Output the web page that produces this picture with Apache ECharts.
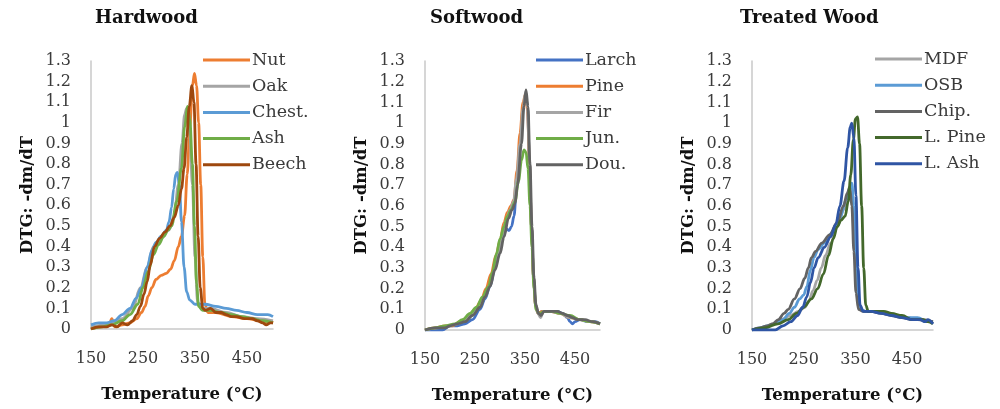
<!DOCTYPE html>
<html>
<head>
<meta charset="utf-8">
<script src="https://cdn.jsdelivr.net/npm/echarts@6/dist/echarts.min.js"></script>
<style>
html,body{margin:0;padding:0;background:#fff;}
#c{width:1000px;height:409px;}
</style>
</head>
<body>
<div id="c"></div>
<script>
// ---------- axis ticks ----------
const xMin = 150, xMax = 500, xStep = 100;
const yMin = 0, yMax = 1.3, yStep = 0.1;

const panelTitles = ['Hardwood', 'Softwood', 'Treated Wood'];
const xAxisTitle = 'Temperature (°C)';
const yAxisTitle = 'DTG: -dm/dT';

// ---------- Hardwood ----------
const hardNames = ['Nut', 'Oak', 'Chest.', 'Ash', 'Beech'];
const nut = [[150,0],[170,0.01],[185,0.02],[190,0.05],[196,0.01],[210,0.02],[225,0.03],[238,0.05],[247,0.08],[254,0.11],[260,0.16],[267,0.2],[275,0.24],[285,0.26],[295,0.27],[303,0.29],[310,0.33],[318,0.4],[324,0.45],[330,0.55],[335,0.75],[340,0.98],[345,1.18],[349,1.24],[353,1.18],[357,1.0],[361,0.7],[365,0.35],[369,0.12],[375,0.08],[390,0.08],[420,0.06],[450,0.05],[475,0.04],[490,0.03],[500,0.04]];
const oak = [[150,0.01],[180,0.02],[210,0.05],[230,0.1],[245,0.2],[258,0.3],[270,0.4],[285,0.44],[300,0.48],[310,0.55],[318,0.7],[325,0.9],[330,1.04],[334,1.07],[340,0.95],[345,0.7],[350,0.35],[355,0.13],[362,0.1],[380,0.1],[410,0.08],[440,0.06],[470,0.05],[500,0.04]];
const chest = [[150,0.02],[165,0.03],[180,0.03],[195,0.04],[210,0.07],[225,0.1],[237,0.15],[247,0.2],[258,0.3],[267,0.38],[275,0.42],[285,0.45],[295,0.48],[300,0.52],[305,0.59],[309,0.68],[313,0.75],[316,0.76],[320,0.7],[324,0.52],[329,0.3],[334,0.18],[340,0.14],[350,0.12],[370,0.12],[390,0.11],[410,0.1],[430,0.09],[450,0.08],[470,0.07],[490,0.07],[500,0.06]];
const ash = [[150,0],[170,0.01],[190,0.02],[210,0.04],[225,0.07],[240,0.12],[250,0.2],[260,0.28],[270,0.36],[280,0.41],[290,0.45],[298,0.48],[305,0.5],[315,0.62],[324,0.78],[330,0.98],[336,1.08],[340,1.02],[345,0.8],[349,0.5],[353,0.22],[357,0.11],[365,0.09],[380,0.09],[400,0.08],[420,0.07],[440,0.06],[460,0.05],[480,0.04],[500,0.03]];
const beech = [[150,0],[165,0.01],[180,0.01],[190,0.02],[200,0.01],[210,0.03],[220,0.02],[230,0.04],[238,0.07],[245,0.11],[252,0.17],[258,0.23],[264,0.31],[272,0.4],[282,0.44],[292,0.47],[302,0.5],[310,0.54],[318,0.6],[324,0.68],[329,0.78],[334,0.93],[339,1.08],[344,1.18],[348,1.1],[352,0.8],[356,0.45],[360,0.2],[365,0.1],[370,0.09],[380,0.1],[390,0.08],[400,0.08],[410,0.07],[420,0.06],[430,0.06],[445,0.05],[460,0.05],[470,0.04],[480,0.03],[487,0.02],[495,0.03],[500,0.03]];

// ---------- Softwood ----------
const softNames = ['Larch', 'Pine', 'Fir', 'Jun.', 'Dou.'];
const larch = [[150,0],[170,0],[185,0],[200,0.02],[215,0.02],[230,0.03],[245,0.05],[260,0.1],[270,0.15],[280,0.21],[290,0.3],[298,0.38],[305,0.45],[312,0.49],[318,0.48],[323,0.5],[328,0.55],[333,0.68],[340,0.88],[346,1.06],[351,1.14],[355,1.08],[359,0.8],[363,0.5],[367,0.25],[371,0.12],[376,0.08],[385,0.09],[400,0.09],[415,0.09],[425,0.08],[435,0.06],[440,0.04],[445,0.03],[450,0.04],[460,0.05],[475,0.04],[490,0.04],[500,0.03]];
const pine = [[150,0],[170,0.01],[190,0.02],[205,0.02],[220,0.04],[235,0.06],[250,0.1],[262,0.14],[272,0.2],[282,0.27],[292,0.36],[300,0.43],[308,0.52],[315,0.57],[322,0.6],[328,0.63],[334,0.77],[340,0.95],[346,1.1],[351,1.14],[355,1.06],[359,0.8],[363,0.5],[367,0.25],[371,0.12],[376,0.08],[385,0.09],[400,0.09],[420,0.08],[440,0.06],[460,0.05],[480,0.04],[500,0.03]];
const fir = [[150,0],[175,0.01],[195,0.02],[215,0.03],[230,0.05],[245,0.08],[258,0.11],[270,0.16],[280,0.22],[290,0.3],[298,0.38],[305,0.46],[312,0.53],[320,0.58],[327,0.62],[333,0.73],[340,0.9],[346,1.07],[351,1.15],[355,1.08],[359,0.82],[363,0.52],[367,0.27],[371,0.13],[376,0.08],[381,0.06],[387,0.09],[400,0.09],[420,0.08],[440,0.06],[460,0.05],[480,0.04],[500,0.03]];
const jun = [[150,0],[170,0.01],[190,0.02],[210,0.03],[225,0.05],[240,0.08],[253,0.11],[265,0.16],[277,0.21],[285,0.28],[293,0.37],[300,0.44],[308,0.5],[315,0.55],[322,0.58],[330,0.62],[337,0.72],[343,0.82],[348,0.87],[352,0.86],[356,0.78],[360,0.6],[364,0.4],[368,0.2],[372,0.1],[378,0.08],[390,0.09],[405,0.09],[420,0.08],[440,0.07],[460,0.05],[480,0.04],[500,0.03]];
const dou = [[150,0],[170,0.01],[190,0.01],[200,0.02],[215,0.03],[230,0.04],[245,0.07],[260,0.11],[270,0.16],[280,0.21],[290,0.29],[300,0.37],[308,0.45],[317,0.54],[324,0.58],[330,0.61],[335,0.7],[343,0.9],[348,1.08],[352,1.16],[356,1.08],[360,0.8],[364,0.5],[368,0.25],[372,0.12],[377,0.08],[382,0.07],[388,0.09],[400,0.09],[415,0.09],[425,0.08],[435,0.07],[445,0.06],[455,0.05],[470,0.05],[485,0.04],[500,0.03]];

// ---------- Treated Wood ----------
const treatNames = ['MDF', 'OSB', 'Chip.', 'L. Pine', 'L. Ash'];
const mdf = [[150,0],[170,0.01],[190,0.03],[205,0.05],[225,0.07],[240,0.09],[252,0.11],[260,0.14],[268,0.19],[276,0.24],[284,0.3],[292,0.36],[302,0.42],[315,0.5],[327,0.58],[335,0.64],[340,0.67],[344,0.6],[348,0.4],[352,0.2],[357,0.1],[370,0.09],[390,0.09],[410,0.08],[430,0.07],[450,0.06],[470,0.05],[490,0.04],[500,0.04]];
const osb = [[150,0],[165,0.01],[180,0.02],[195,0.03],[210,0.05],[222,0.08],[232,0.11],[242,0.15],[250,0.17],[256,0.21],[263,0.29],[270,0.35],[278,0.39],[290,0.42],[305,0.47],[320,0.54],[332,0.63],[338,0.68],[343,0.71],[347,0.6],[351,0.35],[355,0.16],[359,0.1],[370,0.09],[390,0.09],[410,0.08],[430,0.07],[450,0.06],[470,0.06],[490,0.04],[500,0.04]];
const chip = [[150,0],[165,0.01],[180,0.02],[190,0.03],[201,0.05],[212,0.08],[220,0.1],[232,0.15],[243,0.2],[252,0.25],[259,0.3],[265,0.35],[273,0.38],[285,0.42],[300,0.46],[315,0.52],[327,0.6],[334,0.66],[339,0.69],[343,0.6],[347,0.38],[351,0.18],[356,0.1],[365,0.09],[380,0.09],[400,0.08],[420,0.07],[440,0.06],[460,0.05],[480,0.05],[500,0.04]];
const lPine = [[150,0],[175,0.01],[200,0.03],[220,0.05],[236,0.08],[250,0.11],[265,0.15],[277,0.2],[288,0.27],[298,0.36],[307,0.44],[315,0.5],[322,0.53],[330,0.55],[336,0.62],[341,0.75],[346,0.92],[350,1.02],[354,1.03],[358,0.9],[362,0.6],[366,0.3],[370,0.12],[375,0.09],[390,0.09],[405,0.09],[420,0.08],[440,0.07],[460,0.05],[480,0.05],[490,0.04],[500,0.03]];
const lAsh = [[150,0],[175,0],[195,0],[210,0.02],[225,0.04],[238,0.07],[248,0.11],[256,0.16],[263,0.23],[270,0.3],[278,0.35],[290,0.4],[302,0.45],[312,0.51],[320,0.6],[328,0.72],[335,0.88],[340,0.98],[343,1.0],[347,0.93],[351,0.65],[355,0.3],[359,0.12],[365,0.09],[380,0.09],[400,0.08],[420,0.07],[440,0.06],[460,0.05],[475,0.05],[485,0.04],[490,0.05],[500,0.03]];

const hardData = [nut, oak, chest, ash, beech];
const softData = [larch, pine, fir, jun, dou];
const treatData = [mdf, osb, chip, lPine, lAsh];

const hardColors = ['#ED7D31', '#A5A5A5', '#5B9BD5', '#70AD47', '#9E480E'];
const softColors = ['#4472C4', '#ED7D31', '#A5A5A5', '#70AD47', '#636363'];
const treatColors = ['#A5A5A5', '#5B9BD5', '#636363', '#43682B', '#2F55A4'];

// ---------- layout ----------
const FONT = 'DejaVu Serif';
const panels = [
  { names: hardNames, data: hardData, colors: hardColors, grid: { left: 91, top: 61, width: 182, height: 268 }, title: { left: 95, top: 9 }, legend: { left: 203, top: 50 } },
  { names: softNames, data: softData, colors: softColors, grid: { left: 425, top: 61, width: 175, height: 269 }, title: { left: 430, top: 9 }, legend: { left: 536, top: 50 } },
  { names: treatNames, data: treatData, colors: treatColors, grid: { left: 752, top: 61, width: 181, height: 269 }, title: { left: 740, top: 9 }, legend: { left: 875, top: 49 } }
];

const option = {
  backgroundColor: '#fff',
  animation: false,
  title: [], grid: [], xAxis: [], yAxis: [], legend: [], series: []
};

panels.forEach((p, i) => {
  option.title.push({
    text: panelTitles[i], left: p.title.left, top: p.title.top, padding: 0,
    textStyle: { fontFamily: FONT, fontSize: 18, fontWeight: 'bold', color: '#111' }
  });
  option.grid.push(Object.assign({ containLabel: false }, p.grid));
  option.xAxis.push({
    type: 'value', gridIndex: i, min: xMin, max: xMax, interval: xStep,
    name: xAxisTitle, nameLocation: 'middle', nameGap: 57,
    nameTextStyle: { fontFamily: FONT, fontSize: 16.5, fontWeight: 'bold', color: '#111' },
    axisLine: { show: true, lineStyle: { color: '#C9C9C9', width: 1.5 } },
    axisTick: { show: false }, splitLine: { show: false },
    axisLabel: { showMaxLabel: false, margin: 22, fontFamily: FONT, fontSize: 16, color: '#3a3a3a' }
  });
  option.yAxis.push({
    type: 'value', gridIndex: i, min: yMin, max: yMax, interval: yStep,
    name: yAxisTitle, nameLocation: 'middle', nameGap: 55, nameRotate: 90,
    nameTextStyle: { fontFamily: FONT, fontSize: 16.5, fontWeight: 'bold', color: '#111' },
    axisLine: { show: true, lineStyle: { color: '#C9C9C9', width: 1.5 } },
    axisTick: { show: false }, splitLine: { show: false },
    axisLabel: { margin: 20, fontFamily: FONT, fontSize: 16, color: '#3a3a3a' }
  });
  option.legend.push({
    data: p.names, orient: 'vertical', left: p.legend.left, top: p.legend.top,
    padding: 0, itemGap: 6.2, itemWidth: 47, itemHeight: 3, icon: 'rect',
    selectedMode: false,
    textStyle: { fontFamily: FONT, fontSize: 17.5, color: '#3a3a3a', lineHeight: 20, padding: [0, 0, 0, -3] }
  });
  p.names.forEach((n, k) => {
    option.series.push({
      name: n, type: 'line', xAxisIndex: i, yAxisIndex: i,
      data: p.data[k], showSymbol: false, symbol: 'none',
      smooth: 0.35, smoothMonotone: 'x',
      lineStyle: { color: p.colors[k], width: 2.8 },
      itemStyle: { color: p.colors[k] }
    });
  });
});

const chart = echarts.init(document.getElementById('c'), null, { renderer: 'canvas' });
chart.setOption(option);
</script>
</body>
</html>
